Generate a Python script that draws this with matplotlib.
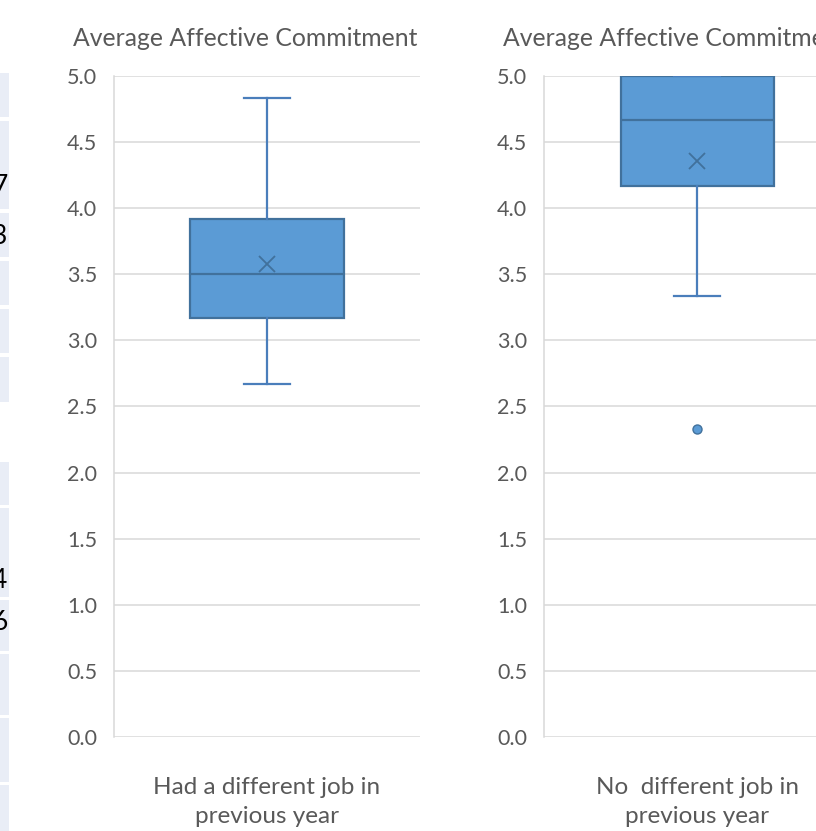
import matplotlib
matplotlib.use("Agg")
import matplotlib.pyplot as plt
from matplotlib.patches import Rectangle

plt.rcParams["font.family"] = ["Lato", "DejaVu Sans"]

# box plot summaries for the two groups
groups = ["Had a different job in\nprevious year", "No  different job in\nprevious year"]
titles = ["Average Affective Commitment", "Average Affective Commitment"]
medians = [3.5, 4.667]
q1s = [3.167, 4.167]
q3s = [3.917, 5.0]
whis_lo = [2.667, 3.333]
whis_hi = [4.833, 5.0]
means = [3.58, 4.36]
outliers = [[], [2.333]]
yticks = [0.0, 0.5, 1.0, 1.5, 2.0, 2.5, 3.0, 3.5, 4.0, 4.5, 5.0]

# neighbouring worksheet cells peeking in at the left edge
cell_edges = [(73, 117), (121, 209), (213, 257), (261, 305), (309, 353), (357, 402),
              (462, 505), (508, 597), (600, 651), (654, 715), (718, 782), (785, 831)]
cell_digits = ["7", "3", "4", "6"]
digit_rows = [187, 237, 580, 623]

W, H = 816, 831
fig = plt.figure(figsize=(W / 100, H / 100), dpi=100)

box_fill = "#5B9BD5"
box_edge = "#41719C"
grid_c = "#D9D9D9"
text_c = "#595959"

for (y0, y1) in cell_edges:
    fig.patches.append(Rectangle((0, 1 - y1 / H), 8.5 / W, (y1 - y0) / H,
                                 transform=fig.transFigure, color="#E9EDF6", lw=0))
for d, yc in zip(cell_digits, digit_rows):
    fig.text(7.5 / W, 1 - yc / H, d, ha="right", va="center", fontsize=19, color="black")

ax_left = [114, 544]
ax_w = 306
ax_top, ax_bot = 76, 737
title_x = [245, 675]

for i in range(2):
    ax = fig.add_axes([ax_left[i] / W, 1 - ax_bot / H, ax_w / W, (ax_bot - ax_top) / H])
    stats = [dict(med=medians[i], q1=q1s[i], q3=q3s[i], whislo=whis_lo[i],
                  whishi=whis_hi[i], mean=means[i], fliers=outliers[i], label=groups[i])]
    ax.bxp(stats, positions=[1], widths=0.5, capwidths=0.15, showmeans=True,
           patch_artist=True,
           boxprops=dict(facecolor=box_fill, edgecolor=box_edge, linewidth=1.6),
           medianprops=dict(color=box_edge, linewidth=1.6),
           whiskerprops=dict(color="#4A7EBB", linewidth=1.6),
           capprops=dict(color="#4A7EBB", linewidth=1.6),
           meanprops=dict(marker="x", markeredgecolor=box_edge, markersize=12,
                          markeredgewidth=1.3),
           flierprops=dict(marker="o", markerfacecolor=box_fill, markeredgecolor=box_edge,
                           markersize=6.5, markeredgewidth=1))
    ax.set_xlim(0.5, 1.5)
    ax.set_ylim(0, 5)
    ax.set_yticks(yticks)
    ax.set_yticklabels([f"{v:.1f}" for v in yticks])
    ax.yaxis.grid(True, color=grid_c, linewidth=1.1)
    ax.set_axisbelow(True)
    for s in ["top", "right", "bottom"]:
        ax.spines[s].set_visible(False)
    ax.spines["left"].set_color(grid_c)
    ax.spines["left"].set_linewidth(1.1)
    ax.tick_params(axis="y", length=0, pad=12, labelsize=15.5, labelcolor=text_c)
    ax.tick_params(axis="x", length=0, pad=29, labelsize=17.5, labelcolor=text_c)
    for lbl in ax.get_xticklabels():
        lbl.set_linespacing(1.45)
    fig.text(title_x[i] / W, 1 - 38 / H, titles[i], ha="center", va="center",
             fontsize=17.8, color=text_c)

fig.savefig("out.png", dpi=100, facecolor="white")
